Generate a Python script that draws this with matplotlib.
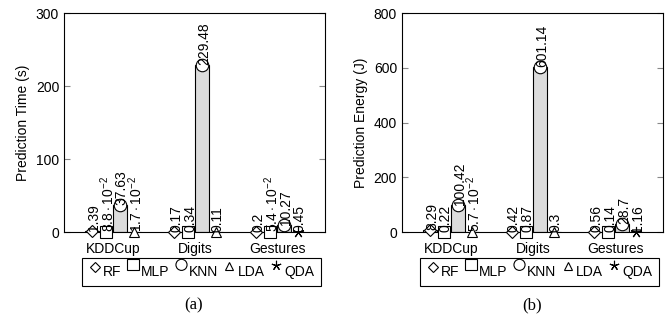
import numpy as np
import matplotlib.pyplot as plt
from matplotlib.lines import Line2D
from matplotlib.markers import MarkerStyle
from matplotlib.transforms import Affine2D

plt.rcParams['font.family'] = ['Liberation Sans', 'DejaVu Sans']
plt.rcParams['mathtext.fontset'] = 'custom'
plt.rcParams['mathtext.rm'] = 'Liberation Sans'
plt.rcParams['mathtext.it'] = 'Liberation Sans'
plt.rcParams['font.size'] = 10

datasets = ['KDDCup', 'Digits', 'Gestures']
models = ['RF', 'MLP', 'KNN', 'LDA', 'QDA']
markers = ['D', 's', 'o', '^', (5, 2, 0)]
marker_sizes = [6, 9, 9, 7, 8]

# prediction time (s), nan = not reported
time_rf = [1.39, 0.17, 0.2]
time_mlp = [0.088, 0.34, 0.054]
time_knn = [37.63, 229.48, 10.27]
time_lda = [0.017, 0.11, np.nan]
time_qda = [np.nan, np.nan, 0.45]

# prediction energy (J)
energy_rf = [8.29, 0.42, 0.56]
energy_mlp = [0.22, 0.87, 0.14]
energy_knn = [100.42, 601.14, 28.7]
energy_lda = [0.057, 0.3, np.nan]
energy_qda = [np.nan, np.nan, 1.16]


def fmt(v):
    if v < 0.1:
        e = int(np.floor(np.log10(v)))
        m = v / 10 ** e
        return r'$%.1f\cdot10^{%d}$' % (m, e)
    return '%g' % v


def draw(ax, series, ymax, ylabel, yticks):
    width = 0.17
    for g in range(len(datasets)):
        present = [i for i in range(len(models)) if not np.isnan(series[i][g])]
        n = len(present)
        for k, i in enumerate(present):
            v = series[i][g]
            x = g + (k - (n - 1) / 2) * width
            ax.bar(x, v, width, color='#dcdcdc', edgecolor='black', linewidth=0.8, zorder=2)
            ax.plot(x, v, marker=markers[i], markersize=marker_sizes[i], markerfacecolor='white',
                    markeredgecolor='black', markeredgewidth=0.8, linestyle='none', zorder=3,
                    clip_on=False)
            ax.text(x + 0.02, v, fmt(v), rotation=90, ha='center', va='bottom', zorder=4)
    ax.set_xlim(-0.6, 2.58)
    ax.set_ylim(0, ymax)
    ax.set_yticks(yticks)
    ax.set_xticks(range(len(datasets)))
    ax.set_xticklabels(datasets)
    ax.tick_params(axis='x', length=0, pad=7)
    ax.tick_params(axis='y', direction='in', length=4, color='#888888', right=True)
    ax.set_ylabel(ylabel, labelpad=4)
    for s in ax.spines.values():
        s.set_linewidth(0.8)


fig = plt.figure(figsize=(6.71, 3.26), dpi=100)
ax1 = fig.add_axes([0.0954, 0.288, 0.389, 0.672])
ax2 = fig.add_axes([0.599, 0.288, 0.389, 0.672])

draw(ax1, [time_rf, time_mlp, time_knn, time_lda, time_qda], 300, 'Prediction Time (s)', [0, 100, 200, 300])
draw(ax2, [energy_rf, energy_mlp, energy_knn, energy_lda, energy_qda], 800, 'Prediction Energy (J)',
     [0, 200, 400, 600, 800])

# legend marks sit higher than their labels, like in the original
handles = [Line2D([], [], marker=MarkerStyle(markers[i], transform=Affine2D().translate(0, 0.6)),
                  markersize=marker_sizes[i] - 1, markerfacecolor='white',
                  markeredgecolor='black', markeredgewidth=0.8, linestyle='none') for i in range(len(models))]
for ax, cx in [(ax1, 0.300), (ax2, 0.804)]:
    leg = fig.legend(handles, models, loc='center', bbox_to_anchor=(cx, 0.166), ncol=5,
                     handlelength=0.9, handletextpad=0.15, columnspacing=0.35, borderpad=0.5,
                     fancybox=False, edgecolor='black', framealpha=1)
    leg.get_frame().set_linewidth(0.8)

fig.text(0.289, 0.05, '(a)', family='Liberation Serif', fontsize=12, ha='center')
fig.text(0.793, 0.05, '(b)', family='Liberation Serif', fontsize=12, ha='center')

fig.savefig('out.png', dpi=100)
